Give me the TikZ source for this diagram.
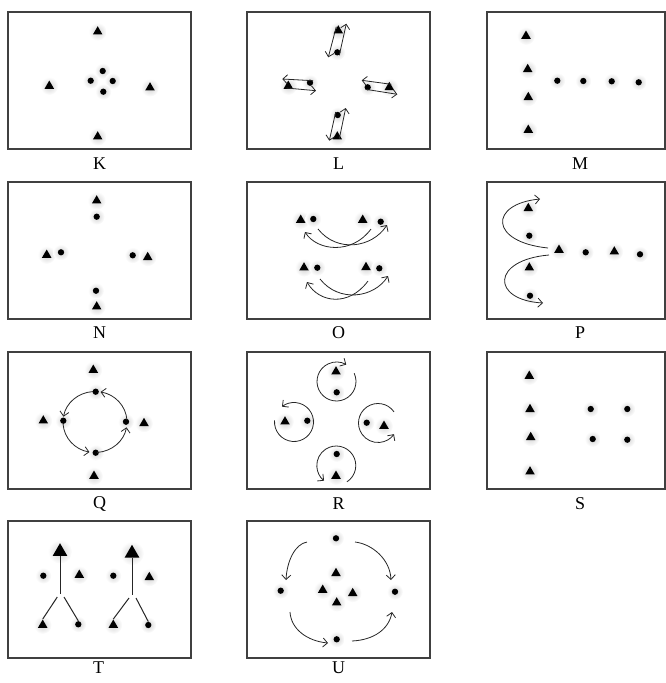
\documentclass[tikz,border=0pt]{standalone}
\usepackage{fontspec}
\setmainfont{Liberation Serif}
\usetikzlibrary{shapes.geometric,arrows.meta}
\pgfdeclarelayer{bg}
\pgfsetlayers{bg,main}
\tikzset{
  tri/.style={regular polygon,regular polygon sides=3,fill=black,inner sep=0pt,minimum size=11pt},
  bigtri/.style={regular polygon,regular polygon sides=3,fill=black,inner sep=0pt,minimum size=17pt},
  dotm/.style={circle,fill=black,inner sep=0pt,minimum size=6.3pt},
  halo/.style={inner color=gray!35,outer color=white},
  frame/.style={draw=black!75,line width=1.1pt},
  arr/.style={draw=black!85,line width=0.8pt,-{Straight Barb[length=4.5pt,width=9pt]}},
  ln/.style={draw=black!85,line width=1pt},
  lab/.style={font=\fontsize{18}{18}\selectfont},
}
\newcommand\Tri[2]{\begin{pgfonlayer}{bg}\shade[halo] (#2) circle (9);\end{pgfonlayer}\node[tri] (#1) at (#2) {};}
\newcommand\BTri[2]{\begin{pgfonlayer}{bg}\shade[halo] (#2) circle (12);\end{pgfonlayer}\node[bigtri] (#1) at (#2) {};}
\newcommand\Dot[2]{\begin{pgfonlayer}{bg}\shade[halo] (#2) circle (8);\end{pgfonlayer}\node[dotm] (#1) at (#2) {};}
\begin{document}
\begin{tikzpicture}[x=1pt,y=-1pt]
\useasboundingbox (0,0) rectangle (666,683);
% ---------- K ----------
\begin{scope}[shift={(8,12)}]
\draw[frame] (0,0) rectangle (183,137);
\node[lab] (Klab) at (91.5,152) {K};
\Tri{k1}{89.7,19.7}\Tri{k2}{41.3,74}\Tri{k3}{142,75.7}\Tri{k4}{89.7,124.7}
\Dot{k5}{94.7,59}\Dot{k6}{82.7,68.7}\Dot{k7}{104.7,69}\Dot{k8}{95.3,79.7}
\end{scope}
% ---------- L ----------
\begin{scope}[shift={(247,12)}]
\draw[frame] (0,0) rectangle (183,137);
\node[lab] (Llab) at (91.5,152) {L};
\Tri{l1}{91.3,18.7}\Dot{l2}{90.3,40.3}
\draw[arr] ([shift={(-2,-4)}]l1.center) -- ([shift={(-9,5)}]l2.center);
\draw[arr] ([shift={(2,3)}]l2.center) -- ([shift={(8,-7)}]l1.center);
\Tri{l3}{41.3,74}\Dot{l4}{63,70.7}
\draw[arr] ([shift={(3,-2)}]l4.center) -- ([shift={(-6,-7)}]l3.center);
\draw[arr] ([shift={(-2,2)}]l3.center) -- ([shift={(6,8)}]l4.center);
\Dot{l5}{120.7,75.3}\Tri{l6}{142.3,75.3}
\draw[arr] ([shift={(2,-3)}]l6.center) -- ([shift={(-6,-7)}]l5.center);
\draw[arr] ([shift={(-2,2)}]l5.center) -- ([shift={(8,7)}]l6.center);
\Dot{l7}{90.7,103}\Tri{l8}{90.3,124.7}
\draw[arr] ([shift={(-2,-3)}]l7.center) -- ([shift={(-8,4)}]l8.center);
\draw[arr] ([shift={(2,2)}]l8.center) -- ([shift={(8,-7)}]l7.center);
\end{scope}
% ---------- M ----------
\begin{scope}[shift={(487,12)}]
\draw[frame] (0,0) rectangle (178,137);
\node[lab] (Mlab) at (93,152) {M};
\Tri{m1}{39,24}\Tri{m2}{40.7,57.3}\Tri{m3}{41.3,85.3}\Tri{m4}{41.3,118}
\Dot{m5}{70.3,68.7}\Dot{m6}{96.3,69}\Dot{m7}{124.7,69.3}\Dot{m8}{151.7,70.3}
\end{scope}
% ---------- N ----------
\begin{scope}[shift={(8,182)}]
\draw[frame] (0,0) rectangle (183,137);
\node[lab] (Nlab) at (91.5,151) {N};
\Tri{n1}{88.7,18.7}\Dot{n2}{88.7,34.7}
\Tri{n3}{38.7,73}\Dot{n4}{53,70.3}
\Dot{n5}{124.7,73.3}\Tri{n6}{139.7,75.3}
\Dot{n7}{88,108.7}\Tri{n8}{88.7,124.7}
\end{scope}
% ---------- O ----------
\begin{scope}[shift={(247,182)}]
\draw[frame] (0,0) rectangle (183,137);
\node[lab] (Olab) at (91.5,151) {O};
\Tri{o1}{53.7,38}\Dot{o2}{66.3,37}\Tri{o3}{115.7,38}\Dot{o4}{133.7,39.7}
\Tri{o5}{57,85.7}\Dot{o6}{70.3,85.7}\Tri{o7}{119,85.3}\Dot{o8}{132.3,86.3}
\draw[arr] (71,47) .. controls (90,71) and (125,66) .. (140,43);
\draw[arr] (124,47) .. controls (105,73) and (70,69) .. (58,50);
\draw[arr] (73,97) .. controls (92,121) and (127,116) .. (141,94);
\draw[arr] (121,99) .. controls (102,125) and (72,121) .. (60,100);
\end{scope}
% ---------- P ----------
\begin{scope}[shift={(487,182)}]
\draw[frame] (0,0) rectangle (178,137);
\node[lab] (Plab) at (93,151) {P};
\Tri{p1}{41.3,26.3}\Dot{p2}{42.3,53.7}\Tri{p3}{42.3,85.7}\Dot{p4}{43,113.7}
\Tri{p5}{72,68}\Dot{p6}{98.7,70.3}\Tri{p7}{127.3,69.7}\Dot{p8}{153,72.3}
\draw[arr] (61,66) .. controls (2,60) and (2,22) .. (53,17);
\draw[arr] (62,73) .. controls (4,78) and (4,118) .. (56,121);
\end{scope}
% ---------- Q ----------
\begin{scope}[shift={(8,352)}]
\draw[frame] (0,0) rectangle (183,137);
\node[lab] (Qlab) at (91.5,152) {Q};
\Tri{q1}{85.3,18}\Tri{q2}{35.3,68.7}\Tri{q3}{136,71.3}\Tri{q4}{86,124}
\Dot{q5}{87.7,39.7}\Dot{q6}{55.3,68.7}\Dot{q7}{118,69.7}\Dot{q8}{87.7,100.7}
\coordinate (qc) at (87,70);
\draw[arr] (qc) ++(266:32 and 30.5) arc[start angle=266, end angle=190, x radius=32, y radius=30.5];
\draw[arr] (qc) ++(176:32 and 30.5) arc[start angle=176, end angle=100, x radius=32, y radius=30.5];
\draw[arr] (qc) ++(86:32 and 30.5) arc[start angle=86, end angle=10, x radius=32, y radius=30.5];
\draw[arr] (qc) ++(-4:32 and 30.5) arc[start angle=-4, end angle=-80, x radius=32, y radius=30.5];
\end{scope}
% ---------- R ----------
\begin{scope}[shift={(247,352)}]
\draw[frame] (0,0) rectangle (183,137);
\node[lab] (Rlab) at (91.5,152) {R};
\Tri{r1}{89,19.7}\Dot{r2}{89.7,40.3}
\coordinate (rc1) at (89.5,29.5);
\draw[arr] (rc1) ++(-25:19.5) arc[start angle=-25, end angle=300, radius=19.5];
\Tri{r3}{38,69.7}\Dot{r4}{60.3,68.7}
\coordinate (rc2) at (47,70);
\draw[arr] (rc2) ++(185:19.5) arc[start angle=185, end angle=-128, radius=19.5];
\Dot{r5}{119.7,70.7}\Tri{r6}{137,74}
\coordinate (rc3) at (131,71);
\draw[arr] (rc3) ++(-35:19.5) arc[start angle=-35, end angle=-325, radius=19.5];
\Dot{r7}{89.7,102}\Tri{r8}{89,124}
\coordinate (rc4) at (89.3,113.5);
\draw[arr] (rc4) ++(57:19.5) arc[start angle=417, end angle=129, radius=19.5];
\end{scope}
% ---------- S ----------
\begin{scope}[shift={(487,352)}]
\draw[frame] (0,0) rectangle (178,137);
\node[lab] (Slab) at (93,152) {S};
\Tri{s1}{42.3,24}\Tri{s2}{43,57.3}\Tri{s3}{43.7,85.3}\Tri{s4}{43,119.7}
\Dot{s5}{103.7,57}\Dot{s6}{140.3,57}\Dot{s7}{105.7,87}\Dot{s8}{140.3,87.7}
\end{scope}
% ---------- T ----------
\begin{scope}[shift={(8,521)}]
\draw[frame] (0,0) rectangle (183,137);
\node[lab] (Tlab) at (90.5,147) {T};
\BTri{t1}{52,30.7}\BTri{t2}{124,32.3}
\Dot{t3}{35.3,54.7}\Tri{t4}{71.3,54}\Dot{t5}{105.3,54.7}\Tri{t6}{141.3,56.3}
\Tri{t7}{34.7,104}\Dot{t8}{70.3,103.3}\Tri{t9}{105.3,104}\Dot{t10}{140.3,104}
\coordinate (tj1) at (52,73);
\coordinate (tj2) at (124,74);
\draw[ln] (t1.south) -- (tj1);
\draw[ln] (49.3,76) -- (t7.north);
\draw[ln] (56,76) -- (t8.north);
\draw[ln] (t2.south) -- (tj2);
\draw[ln] (121,77) -- (t9.north);
\draw[ln] (128,77) -- (t10.north);
\end{scope}
% ---------- U ----------
\begin{scope}[shift={(247,521)}]
\draw[frame] (0,0) rectangle (183,137);
\node[lab] (Ulab) at (91.5,147) {U};
\Dot{u1}{89,17.3}\Dot{u2}{33.7,69.7}\Dot{u3}{148,70.7}\Dot{u4}{89.7,118.3}
\Tri{u5}{89,52.3}\Tri{u6}{75.7,69}\Tri{u7}{105.7,72.3}\Tri{u8}{89.7,81.7}
\draw[arr] (60,21) .. controls (48,23) and (40,40) .. (39,59);
\draw[arr] (108,21) .. controls (125,23) and (143,38) .. (144,59);
\draw[arr] (43,91) .. controls (44,108) and (60,120) .. (81,122);
\draw[arr] (105,120) .. controls (127,119) and (142,108) .. (145,91);
\end{scope}
\end{tikzpicture}
\end{document}
